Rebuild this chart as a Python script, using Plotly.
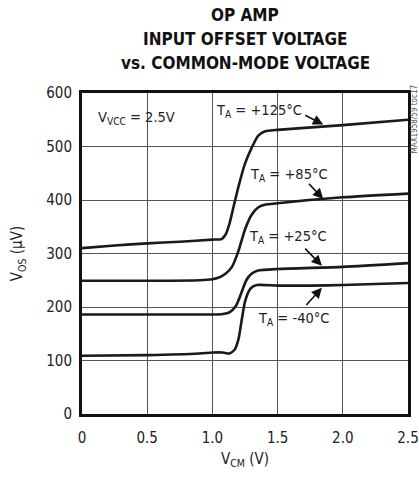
import plotly.graph_objects as go

# ---- data ----
vcm_125 = [0.0, 0.25, 0.5, 0.75, 1.0, 1.07, 1.10, 1.13, 1.16, 1.20, 1.25, 1.30, 1.35, 1.40, 1.45, 1.5, 2.0, 2.5]
vos_125 = [310, 315, 319, 322, 326, 327, 335, 355, 385, 425, 468, 497, 520, 528, 530, 531, 540, 550]

vcm_85 = [0.0, 0.5, 0.9, 1.0, 1.05, 1.10, 1.15, 1.20, 1.25, 1.30, 1.35, 1.40, 1.5, 2.0, 2.5]
vos_85 = [249, 249, 250, 252, 255, 262, 275, 305, 345, 372, 386, 391, 394, 405, 412]

vcm_25 = [0.0, 0.5, 1.0, 1.08, 1.13, 1.18, 1.22, 1.26, 1.30, 1.35, 1.5, 2.0, 2.5]
vos_25 = [186, 186, 186, 187, 190, 202, 225, 250, 262, 268, 271, 275, 282]

vcm_m40 = [0.0, 0.5, 0.9, 1.0, 1.08, 1.13, 1.17, 1.20, 1.225, 1.25, 1.29, 1.34, 1.5, 1.75, 2.0, 2.5]
vos_m40 = [109, 110, 113, 115, 115, 113, 120, 140, 176, 210, 234, 241, 240, 240, 241, 245]

x_ticks = [0, 0.5, 1.0, 1.5, 2.0, 2.5]
x_tick_labels = ["0", "0.5", "1.0", "1.5", "2.0", "2.5"]
y_ticks = [0, 100, 200, 300, 400, 500, 600]

title_lines = ["OP AMP", "INPUT OFFSET VOLTAGE", "vs. COMMON-MODE VOLTAGE"]

FONT = "DejaVu Sans Condensed, Liberation Sans Narrow, Arial Narrow, sans-serif"
LINE = "#1a1a1a"

fig = go.Figure()
for xs, ys in [(vcm_125, vos_125), (vcm_85, vos_85), (vcm_25, vos_25), (vcm_m40, vos_m40)]:
    fig.add_trace(go.Scatter(x=xs, y=ys, mode="lines",
                             line=dict(color=LINE, width=2.6, shape="spline", smoothing=0.6),
                             showlegend=False, hoverinfo="skip"))

labels = [
    # text, x, y, arrow tip (x, y), arrow tail (x, y)
    ("T<sub>A</sub> = +125°C", 1.36, 566, (1.85, 541), (1.70, 560)),
    ("T<sub>A</sub> = +85°C", 1.59, 447, (1.85, 402), (1.73, 433)),
    ("T<sub>A</sub> = +25°C", 1.58, 331, (1.84, 277), (1.70, 312)),
    ("T<sub>A</sub> = -40°C", 1.62, 178, (1.84, 236), (1.71, 201)),
]
annotations = []
for txt, tx, ty, tip, tail in labels:
    annotations.append(dict(x=tx, y=ty, xref="x", yref="y", text=txt, showarrow=False,
                            font=dict(family=FONT, size=14.5, color="#222")))
    annotations.append(dict(x=tip[0], y=tip[1], ax=tail[0], ay=tail[1], xref="x", yref="y",
                            axref="x", ayref="y", text="", showarrow=True,
                            arrowhead=2, arrowsize=1.3, arrowwidth=1.6, arrowcolor="#111"))
annotations.append(dict(x=0.11, y=553, xref="x", yref="y", xanchor="left",
                        text="V<sub>VCC</sub> = 2.5V", showarrow=False,
                        font=dict(family=FONT, size=14.5, color="#222")))
annotations.append(dict(x=1.0, y=1.0, xref="paper", yref="paper", xanchor="center", yanchor="top",
                        xshift=6, yshift=10, textangle=-90,
                        text="MAX1958/59 toc17", showarrow=False,
                        font=dict(family=FONT, size=8, color="#555")))
for i, line in enumerate(title_lines):
    annotations.append(dict(x=0.5, y=1.0, xref="paper", yref="paper", xanchor="center", yanchor="middle",
                            yshift=93 - 15 - 24 * i, text="<b>%s</b>" % line, showarrow=False,
                            font=dict(family=FONT, size=17, color="#111")))

fig.update_layout(
    width=419, height=478,
    margin=dict(l=82, r=11, t=93, b=64, autoexpand=False),
    paper_bgcolor="white", plot_bgcolor="white",
    font=dict(family=FONT, size=15, color="#222"),
    annotations=annotations,
)
fig.update_xaxes(range=[0, 2.5], tickvals=x_ticks, ticktext=x_tick_labels,
                 showgrid=True, gridcolor="#555", gridwidth=1, automargin=False,
                 showline=True, linecolor="#111", linewidth=3, mirror=True,
                 ticks="", ticklabelstandoff=8, zeroline=False,
                 title=dict(text="V<sub>CM</sub> (V)", standoff=8, font=dict(size=15)))
fig.update_yaxes(range=[0, 600], tickvals=y_ticks, automargin=False,
                 showgrid=True, gridcolor="#555", gridwidth=1,
                 showline=True, linecolor="#111", linewidth=3, mirror=True,
                 ticks="", ticklabelstandoff=4, zeroline=False,
                 title=dict(text="V<sub>OS</sub> (µV)", standoff=20, font=dict(size=15)))

fig.write_html("out.html", config={"displayModeBar": False},
               post_script="document.body.style.margin='0';")
